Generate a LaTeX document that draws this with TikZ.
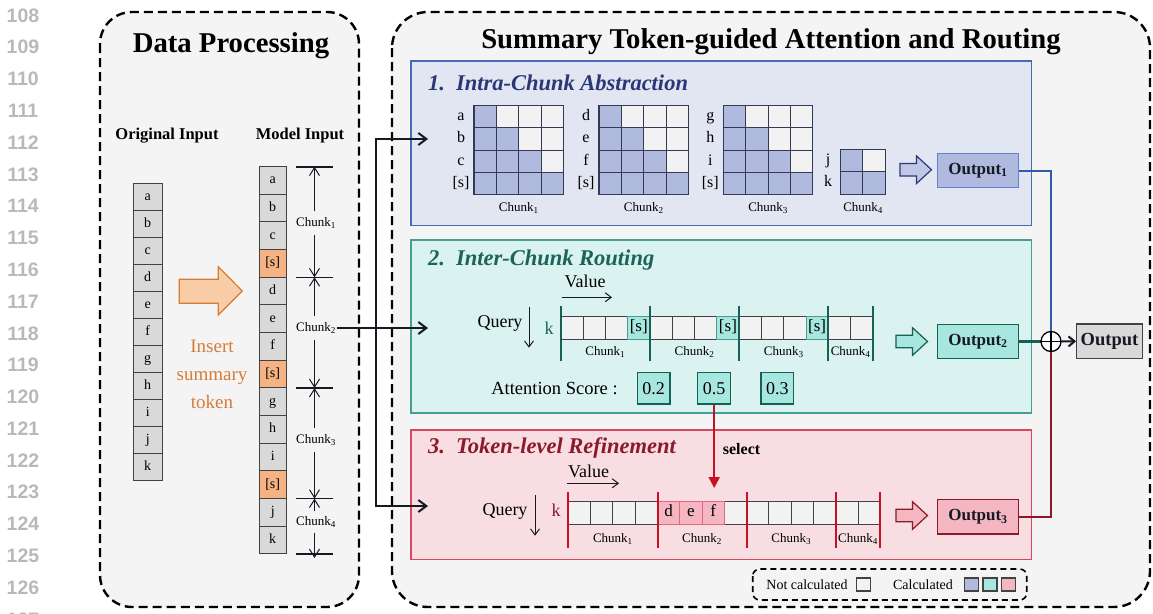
\documentclass[tikz,border=0pt]{standalone}
\usepackage{fontspec}
\setmainfont{Liberation Serif}
\newfontfamily\linenofont{Liberation Sans}
\usetikzlibrary{arrows.meta}

\definecolor{panelbg}{RGB}{244,244,244}
\definecolor{tokgray}{RGB}{217,217,217}
\definecolor{tokedge}{RGB}{66,66,66}
\definecolor{sumfill}{RGB}{245,178,130}
\definecolor{insorange}{RGB}{214,124,58}
\definecolor{arrfill}{RGB}{248,204,166}
\definecolor{arredge}{RGB}{214,124,50}
\definecolor{offcell}{RGB}{242,242,242}
\definecolor{bluecell}{RGB}{176,186,222}
\definecolor{tealcell}{RGB}{168,230,224}
\definecolor{pinkcell}{RGB}{244,182,192}
\definecolor{blueback}{RGB}{226,229,242}
\definecolor{blueedge}{RGB}{68,108,178}
\definecolor{blueout}{RGB}{95,130,210}
\definecolor{bluetitle}{RGB}{42,56,118}
\definecolor{matedge}{RGB}{52,58,84}
\definecolor{tealback}{RGB}{218,242,240}
\definecolor{tealedge}{RGB}{72,158,148}
\definecolor{tealtitle}{RGB}{28,100,90}
\definecolor{tealline}{RGB}{22,96,86}
\definecolor{pinkback}{RGB}{248,222,226}
\definecolor{pinkedge}{RGB}{214,72,92}
\definecolor{pinkcelledge}{RGB}{222,104,124}
\definecolor{pinktitle}{RGB}{140,24,44}
\definecolor{pinkline}{RGB}{200,16,36}
\definecolor{ink}{RGB}{22,24,36}
\definecolor{linenogray}{RGB}{185,185,185}
\definecolor{bluewire}{RGB}{50,90,170}
\definecolor{redwire}{RGB}{140,24,44}

\newcommand\fsz[1]{\fontsize{#1pt}{#1pt}\selectfont}

\begin{document}
\begin{tikzpicture}[x=1pt,y=-1pt,
  panel/.style={draw=black, line width=2.4pt, dash pattern=on 9pt off 5pt, fill=panelbg, rounded corners=32pt},
  lineno/.style={font=\linenofont\bfseries\fsz{19.5}, text=linenogray, inner sep=0pt},
  tok/.style={draw=tokedge, line width=1pt, minimum width=29pt, minimum height=27pt, inner sep=0pt,
    font=\fsz{14}, text height=9.5pt, text depth=3pt},
  mtok/.style={tok, minimum width=27.3pt, minimum height=27.66pt},
  chlab/.style={font=\fsz{13}, inner xsep=1pt, inner ysep=6pt},
  tick/.style={draw=ink, line width=1.6pt},
  dimarrow/.style={draw=ink, line width=1pt, -{Straight Barb[length=8pt,width=10pt]}},
  wire/.style={draw=ink, line width=2.2pt},
  barb/.tip={Straight Barb[length=8pt,width=12pt,line width=2pt]},
  sec/.style={line width=1.6pt},
  sectitle/.style={anchor=base west, font=\fsz{22.5}\bfseries\itshape, inner sep=0pt},
  mcell/.style={draw=matedge, line width=1.1pt, minimum size=22.4pt, inner sep=0pt},
  rowlab/.style={font=\fsz{16}, inner sep=0pt, text height=11pt, text depth=3.5pt},
  rcell/.style={draw=tokedge, fill=offcell, line width=1pt, minimum width=22.3pt, minimum height=22.3pt,
    inner sep=0pt, font=\fsz{17}, text height=12pt, text depth=4pt},
  axisarrow/.style={draw=ink, line width=1pt, -{Straight Barb[length=6pt,width=9pt]}},
  body/.style={font=\fsz{18}, inner sep=0pt},
  score/.style={draw=tealline, fill=tealcell, line width=1.2pt, minimum width=32.7pt, minimum height=31.3pt,
    inner sep=0pt, font=\fsz{18}},
  outbox/.style={line width=1.5pt, minimum width=80.6pt, minimum height=34.4pt, inner sep=0pt,
    font=\fsz{17}\bfseries, text=ink},
  legsq/.style={draw=tokedge, line width=1.2pt, minimum width=14pt, minimum height=13pt, inner sep=0pt},
  blockarrow/.pic={\path[pic actions] (0,-6.3) -- (16.5,-6.3) -- (16.5,-13.8) -- (31.5,0) -- (16.5,13.8)
    -- (16.5,6.3) -- (0,6.3) -- cycle;}
]
\useasboundingbox (0,0) rectangle (1153,613);
\fill[white] (0,0) rectangle (1153,613);

% margin line numbers
\foreach \n [count=\i from 0] in {108,...,127}
  \node[lineno] (ln\n) at (23,{15.5+31.78*\i}) {\n};

% ---------------- left panel: data processing ----------------
\draw[panel] (100,12) rectangle (359,607);
\node[anchor=base, font=\fsz{28.7}\bfseries, inner sep=0pt] (dptitle) at (231,52) {Data Processing};
\node[anchor=base, font=\fsz{16.5}\bfseries, inner sep=0pt] (origlab) at (167,139) {Original Input};
\node[anchor=base, font=\fsz{16.5}\bfseries, inner sep=0pt] (modlab) at (300,139) {Model Input};

% original token column
\foreach \t [count=\i from 0] in {a,...,k}
  \node[tok, fill=tokgray] (o\i) at (147.7,{197.2+27*\i}) {\t};

% model input column with summary tokens after every three tokens
\foreach \t [count=\i from 0] in {a,b,c,{[s]},d,e,f,{[s]},g,h,i,{[s]},j,k} {
  \pgfmathtruncatemacro\ism{mod(\i+1,4)==0}
  \ifnum\ism=1 \def\cf{sumfill}\else\def\cf{tokgray}\fi
  \node[mtok, fill=\cf] (mi\i) at (272.7,{180.5+27.66*\i}) {\t};
}

% insertion arrow
\draw[fill=arrfill, draw=arredge, line width=1.2pt] (179.3,279.3) -- (218.3,279.3) -- (218.3,266.7)
  -- (242.3,291) -- (218.3,315) -- (218.3,303.3) -- (179.3,303.3) -- cycle;
\node[align=center, font=\fontsize{19pt}{28pt}\selectfont, text=insorange] (ins) at (212,374) {Insert\\summary\\token};

% chunk extents
\coordinate (t0) at (314.5,166.7);
\coordinate (t1) at (314.5,277.3);
\coordinate (t2) at (314.5,388);
\coordinate (t3) at (314.5,498.6);
\coordinate (t4) at (314.5,554);
\foreach \k in {0,...,4}
  \draw[tick] ([xshift=-18.5pt]t\k) -- ([xshift=18.5pt]t\k);
\node[chlab] (cl1) at (316,223) {Chunk\textsubscript{1}};
\node[chlab] (cl2) at (316,328) {Chunk\textsubscript{2}};
\node[chlab] (cl3) at (316,440) {Chunk\textsubscript{3}};
\node[chlab, inner ysep=5pt] (cl4) at (316,522) {Chunk\textsubscript{4}};
\draw[dimarrow] (cl1.north -| t0) -- (t0);
\draw[dimarrow] (cl1.south -| t1) -- (t1);
\draw[dimarrow] (cl2.north -| t1) -- (t1);
\draw[dimarrow] (cl2.south -| t2) -- (t2);
\draw[dimarrow] (cl3.north -| t2) -- (t2);
\draw[dimarrow] (cl3.south -| t3) -- (t3);
\draw[dimarrow] (cl4.north -| t3) -- (t3);
\draw[dimarrow] (cl4.south -| t4) -- ([yshift=-4pt]t4);

% ---------------- right panel ----------------
\draw[panel, rounded corners=36pt] (392,12) rectangle (1150,607);
\node[anchor=base, font=\fsz{28.7}\bfseries, inner sep=0pt] (sttitle) at (771,48)
  {Summary Token-guided Attention and Routing};

% feed from the model input to the three stages
\coordinate (jtop) at (376,139);
\coordinate (jbot) at (376,506);
\coordinate (in1) at (428,139);
\coordinate (in2) at (428,328);
\coordinate (in3) at (428,506);

% ---- stage 1 ----
\draw[sec, fill=blueback, draw=blueedge] (411,61) rectangle (1031.5,225.5);
\node[sectitle, text=bluetitle] (st1) at (428,90) {1.\hspace{11pt}Intra-Chunk Abstraction};
\foreach \m/\xo/\la/\lb/\lc in {1/474/a/b/c, 2/599/d/e/f, 3/723.3/g/h/i} {
  \foreach \r in {0,1,2,3} {
    \foreach \c in {0,1,2,3} {
      \ifnum\c>\r \def\cf{offcell}\else\def\cf{bluecell}\fi
      \node[mcell, fill=\cf] (mx\m-\r-\c) at ({\xo+11.2+22.4*\c},{116.5+22.4*\r}) {};
    }
  }
  \node[rowlab] (rl\m a) at ({\xo-13},116.5) {\la};
  \node[rowlab] (rl\m b) at ({\xo-13},138.9) {\lb};
  \node[rowlab] (rl\m c) at ({\xo-13},161.3) {\lc};
  \node[rowlab] (rl\m s) at ({\xo-13},183.7) {[s]};
  \node[font=\fsz{13}, inner sep=0pt] (mc\m) at ({\xo+44.8},208) {Chunk\textsubscript{\m}};
}
\node[mcell, fill=bluecell] (mx4-0-0) at (851.5,160.7) {};
\node[mcell, fill=offcell]  (mx4-0-1) at (873.9,160.7) {};
\node[mcell, fill=bluecell] (mx4-1-0) at (851.5,183.1) {};
\node[mcell, fill=bluecell] (mx4-1-1) at (873.9,183.1) {};
\node[rowlab] (rl4j) at (828,160.7) {j};
\node[rowlab] (rl4k) at (828,183.1) {k};
\node[font=\fsz{13}, inner sep=0pt] (mc4) at (863.1,208) {Chunk\textsubscript{4}};
\pic[draw=bluetitle, fill=bluecell!80!white, line width=1.2pt] (ba1) at (900,169.7) {blockarrow};
\node[outbox, fill=bluecell, draw=blueout] (out1) at (978,170.5) {Output\textsubscript{1}};

% ---- stage 2 ----
\draw[sec, fill=tealback, draw=tealedge] (411,240) rectangle (1031.5,413);
\node[sectitle, text=tealtitle] (st2) at (428,265) {2.\hspace{11pt}Inter-Chunk Routing};
\node[body, anchor=base] (val2) at (585,287.7) {Value};
\coordinate (va2s) at (562,297.3);
\coordinate (va2e) at (612,297.3);
\draw[axisarrow] (va2s) -- (va2e);
\node[body, anchor=base] (qry2) at (500,327.7) {Query};
\coordinate (qa2s) at (529,307);
\coordinate (qa2e) at (529,347.7);
\draw[axisarrow] (qa2s) -- (qa2e);
\node[body, anchor=base, text=tealtitle] (k2) at (549,334.3) {k};
\foreach \i in {0,...,13}
  \node[rcell] (r2c\i) at ({571.85+22.3*\i},327.85) {};
\foreach \i [count=\j] in {3,7,11}
  \node[rcell, fill=tealcell, draw=tealedge] (r2s\j) at ({571.85+22.3*\i},327.85) {[s]};
\foreach \x [count=\j] in {560.7,649.9,739.1,828.3,872.9}
  \draw[draw=tealline, line width=2pt] (\x,306) -- (\x,360.7);
\foreach \x [count=\j] in {605.3,694.5,783.7,850.6}
  \node[font=\fsz{13}, inner sep=0pt] (r2l\j) at (\x,351.7) {Chunk\textsubscript{\j}};
\node[body, anchor=base, font=\fsz{18.5}] (att) at (554.5,394) {Attention Score :};
\node[score] (s02) at (653.7,388.4) {0.2};
\node[score] (s05) at (714.2,388.4) {0.5};
\node[score] (s03) at (777.4,388.4) {0.3};
\pic[draw=tealline, fill=tealcell, line width=1.2pt] (ba2) at (896,341.5) {blockarrow};
\node[outbox, fill=tealcell, draw=tealline] (out2) at (978,341.5) {Output\textsubscript{2}};

% ---- stage 3 ----
\draw[sec, fill=pinkback, draw=pinkedge] (411,430) rectangle (1031.5,559.3);
\node[sectitle, text=pinktitle] (st3) at (428,453) {3.\hspace{11pt}Token-level Refinement};
\node[font=\fsz{16}\bfseries, anchor=base west, inner sep=0pt] (sel) at (722.7,454.3) {select};
\coordinate (selend) at (714.2,488);
\draw[draw=pinkline, line width=2pt, -{Triangle[length=11pt,width=11pt]}] (s05.south) -- (selend);
\node[body, anchor=base] (val3) at (588.7,477) {Value};
\coordinate (va3s) at (567,483.3);
\coordinate (va3e) at (619,483.3);
\draw[axisarrow] (va3s) -- (va3e);
\node[body, anchor=base] (qry3) at (505,515) {Query};
\coordinate (qa3s) at (535,495);
\coordinate (qa3e) at (535,535.7);
\draw[axisarrow] (qa3s) -- (qa3e);
\node[body, anchor=base, text=pinktitle] (k3) at (556,516.7) {k};
\foreach \i in {0,...,13}
  \node[rcell] (r3c\i) at ({579.45+22.29*\i},512.85) {};
\foreach \i/\t in {4/d,5/e,6/f}
  \node[rcell, fill=pinkcell, draw=pinkcelledge] (r3t\t) at ({579.45+22.29*\i},512.85) {\t};
\foreach \x in {568.3,657.5,746.6,835.8,880.3}
  \draw[draw=pinkline, line width=2pt] (\x,491.7) -- (\x,548.3);
\foreach \x [count=\j] in {612.9,702.05,791.2,858.05}
  \node[font=\fsz{13}, inner sep=0pt] (r3l\j) at (\x,539) {Chunk\textsubscript{\j}};
\pic[draw=pinktitle, fill=pinkcell, line width=1.2pt] (ba3) at (896,515.5) {blockarrow};
\node[outbox, fill=pinkcell, draw=pinktitle] (out3) at (978,516.8) {Output\textsubscript{3}};

% feed wires
\draw[wire, -barb] (cl2.east) -- (in2);
\draw[wire, barb-barb] (in1) -- (jtop) -- (jbot) -- (in3);

% merge of the three outputs
\coordinate (pc) at (1051,341.5);
\coordinate (bend1) at (1051,170.5);
\coordinate (bend3) at (1051,516.8);
\draw[draw=bluewire, line width=2pt] (out1.east) -- (bend1) -- (pc);
\draw[draw=redwire, line width=2pt] (out3.east) -- (bend3) -- (pc);
\draw[draw=tealline, line width=3pt] (out2.east) -- (pc);
\node[circle, draw=black, fill=white, line width=1.3pt, minimum size=20pt, inner sep=0pt] (plus) at (pc) {};
\draw[black, line width=1.3pt] (plus.north) -- (plus.south);
\draw[black, line width=1.3pt] (plus.west) -- (plus.east);
\node[draw=tokedge, fill=tokgray, line width=1.3pt, minimum width=65.6pt, minimum height=34.7pt, inner sep=0pt,
  font=\fsz{18.5}\bfseries, text=ink] (fin) at (1109.5,341.3) {Output};
\draw[draw=ink, line width=2pt, -{Straight Barb[length=6pt,width=10pt,line width=2pt]}] (plus.east) -- (fin.west);

% legend
\draw[draw=black, line width=1.6pt, dash pattern=on 6pt off 4pt, fill=panelbg, rounded corners=7pt]
  (752.7,569) rectangle (1026.7,600);
\node[font=\fsz{14}, inner sep=0pt] (nc) at (807,584.3) {Not calculated};
\node[legsq, fill=offcell] (sq0) at (863.8,584.5) {};
\node[font=\fsz{14}, inner sep=0pt] (cc) at (923,584.3) {Calculated};
\node[legsq, fill=bluecell] (sq1) at (971.3,584.5) {};
\node[legsq, fill=tealcell] (sq2) at (990,584.5) {};
\node[legsq, fill=pinkcell] (sq3) at (1008.6,584.5) {};
\end{tikzpicture}
\end{document}
